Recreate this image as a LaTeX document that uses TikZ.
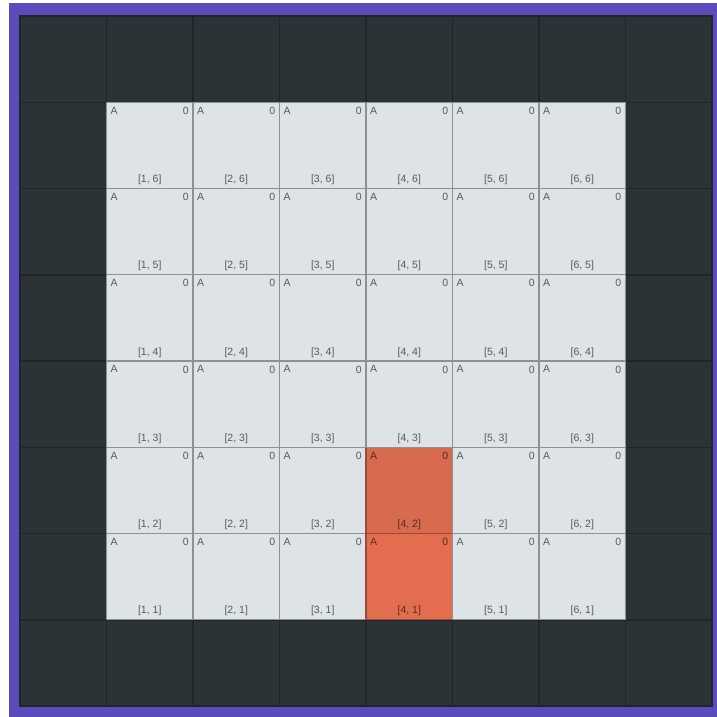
\documentclass[tikz,border=0pt]{standalone}
\usepackage{fontspec}
\setmainfont{Liberation Sans}
\usepackage{xcolor}
\usepackage{tikz}
\usetikzlibrary{positioning}

\definecolor{frame}{HTML}{5B4BBD}
\definecolor{wall}{HTML}{2C3336}
\definecolor{wallline}{HTML}{202628}
\definecolor{floor}{HTML}{DDE3E6}
\definecolor{floorline}{HTML}{8C9294}
\definecolor{goal}{HTML}{D76A4F}
\definecolor{start}{HTML}{E36D4F}
\definecolor{hotline}{HTML}{9A4B37}

\tikzset{
  wallcell/.style={draw=wallline, fill=wall, line width=1.5pt, minimum width=86.5pt, minimum height=86.25pt, inner sep=0pt, outer sep=0pt},
  floorcell/.style={wallcell, draw=floorline, fill=floor, line width=1.2pt},
  goalcell/.style={floorcell, draw=hotline, fill=goal},
  startcell/.style={floorcell, draw=hotline, fill=start},
  celltext/.style={font=\fontsize{10.5}{11}\selectfont, text=black, text opacity=0.6, inner sep=0pt}
}

\begin{document}
\begin{tikzpicture}[x=1pt,y=-1pt]
        % Frame
        \useasboundingbox (0,0) rectangle (717,717);
        \fill[white] (0,0) rectangle (717,717);
        \fill[frame] (9,3) rectangle (717,717);
        \fill[wall] (20,16) rectangle (712,706);

        % Walls
        \foreach \c in {0,...,7}
          \foreach \r in {0,...,7}
            \node[wallcell] (w-\c-\r) at ({20+86.5*(\c+0.5)},{16+86.25*(\r+0.5)}) {};

        % Floor
        \foreach \i in {1,...,6}
          \foreach \j in {1,...,6} {
            \def\cellstyle{floorcell}
            \ifnum\i=4 \ifnum\j=2 \def\cellstyle{goalcell}\fi \ifnum\j=1 \def\cellstyle{startcell}\fi\fi
            \node[\cellstyle] (c-\i-\j) at ({20+86.5*(\i+0.5)},{16+86.25*(7-\j+0.5)}) {};
            \node[celltext, anchor=north west] (a-\i-\j) at ([xshift=4pt,yshift=-4.5pt]c-\i-\j.north west) {A};
            \node[celltext, anchor=north east] (v-\i-\j) at ([xshift=-4pt,yshift=-4.5pt]c-\i-\j.north east) {0};
            \node[celltext, anchor=south] (l-\i-\j) at ([yshift=3.5pt]c-\i-\j.south) {[\i, \j]};
          }

    \end{tikzpicture}
\end{document}
